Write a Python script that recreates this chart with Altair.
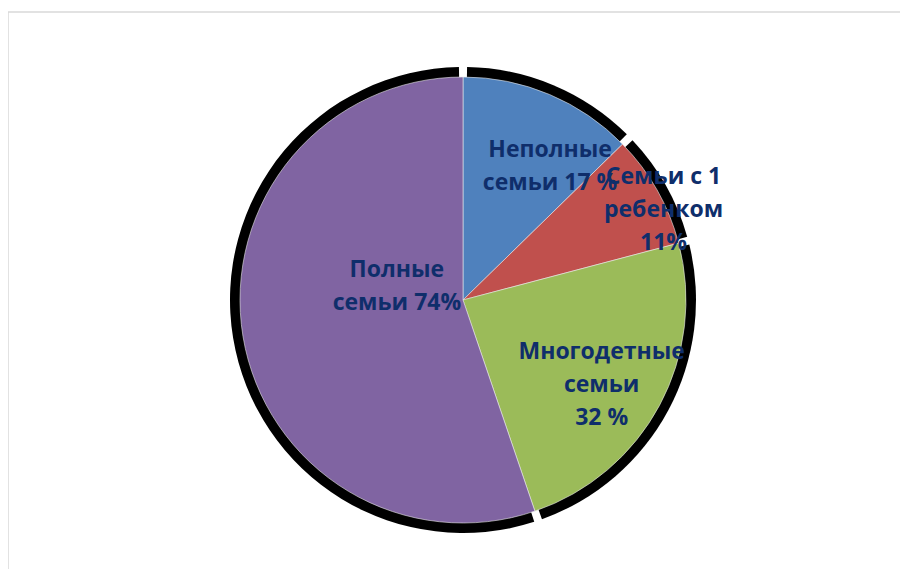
import altair as alt
import pandas as pd

categories = ["Неполные семьи", "Семьи с 1 ребенком", "Многодетные семьи", "Полные семьи"]
values = [17, 11, 32, 74]
labels = ["Неполные\nсемьи 17 %", "Семьи с 1\nребенком\n11%", "Многодетные\nсемьи\n32 %", "Полные\nсемьи 74%"]
colors = ["#4F81BD", "#C0504D", "#9BBB59", "#8064A2"]

df = pd.DataFrame({
    "cat": categories,
    "value": values,
    "label": labels,
    "order": list(range(len(categories))),
})

W, H = 892, 557
CX, CY = 455, 288
R = 223
LH = 33

base = alt.Chart(df).encode(
    theta=alt.Theta("value:Q", stack=True),
    order=alt.Order("order:Q"),
    x=alt.value(CX),
    y=alt.value(CY),
)

shadow = base.mark_arc(outerRadius=R + 10, padAngle=0.035, color="black")

pie = base.mark_arc(outerRadius=R, stroke="#e8e8e8", strokeWidth=0.6).encode(
    color=alt.Color("cat:N", scale=alt.Scale(domain=categories, range=colors), legend=None)
)

# label placement: (radius, dx, dy-of-block-centre) per category
placement = {
    categories[0]: (160, 25, 14),
    categories[1]: (219, 10, 18),
    categories[2]: (163, -5, 8),
    categories[3]: (68, 1, -25),
}

layers = []
frame = alt.Chart(pd.DataFrame({"k": [0]}))
layers.append(frame.mark_rule(color="#d9d9d9", strokeWidth=1.5).encode(
    x=alt.value(0), x2=alt.value(W + 20), y=alt.value(0)))
layers.append(frame.mark_rule(color="#d9d9d9", strokeWidth=1.5).encode(
    x=alt.value(0), y=alt.value(0), y2=alt.value(H + 20)))
layers += [shadow, pie]

for lab, (cat, (r, dx, dy)) in zip(labels, placement.items()):
    n = lab.count("\n") + 1
    layers.append(
        base.mark_text(
            radius=r, dx=dx, dy=dy - (n - 1) * LH / 2, font="Open Sans", fontSize=23,
            fontWeight="bold", color="#0F2E6B", lineBreak="\n", lineHeight=LH,
            align="center", baseline="middle",
        ).encode(
            text=alt.condition(alt.datum.cat == cat, "label:N", alt.value(""))
        )
    )

chart = alt.layer(*layers).properties(
    width=W,
    height=H,
    padding={"left": 0, "top": 4, "right": 0, "bottom": 0},
    autosize=alt.AutoSizeParams(type="none"),
    background="white",
).configure_view(stroke=None)

chart.save("out.html", embed_options={"renderer": "svg", "actions": False})
